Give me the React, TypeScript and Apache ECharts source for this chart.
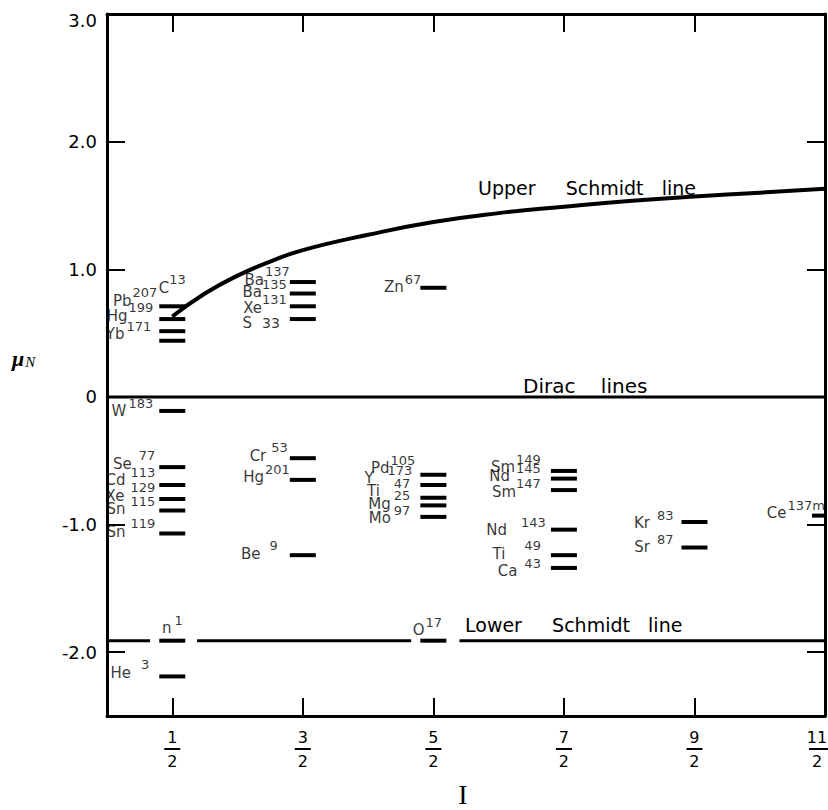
import React, { useEffect, useRef } from 'react';
import * as echarts from 'echarts';

// ---- data ----
const elements = ['C', 'Pb', 'Hg', 'Yb', 'W', 'Se', 'Cd', 'Xe', 'Sn', 'Sn',
  'Ba', 'Ba', 'Xe', 'S', 'Cr', 'Hg', 'Be',
  'Zn', 'Pd', 'Y', 'Ti', 'Mg', 'Mo',
  'Sm', 'Nd', 'Sm', 'Nd', 'Ti', 'Ca',
  'Kr', 'Sr', 'Ce', 'n', 'O', 'He'];
const massNumbers = ['13', '207', '199', '171', '183', '77', '113', '129', '115', '119',
  '137', '135', '131', '33', '53', '201', '9',
  '67', '105', '173', '47', '25', '97',
  '149', '145', '147', '143', '49', '43',
  '83', '87', '137m', '1', '17', '3'];
const spins = [0.5, 0.5, 0.5, 0.5, 0.5, 0.5, 0.5, 0.5, 0.5, 0.5,
  1.5, 1.5, 1.5, 1.5, 1.5, 1.5, 1.5,
  2.5, 2.5, 2.5, 2.5, 2.5, 2.5,
  3.5, 3.5, 3.5, 3.5, 3.5, 3.5,
  4.5, 4.5, 5.5, 0.5, 2.5, 0.5];
const moments = [0.71, 0.61, 0.515, 0.44, -0.11, -0.55, -0.69, -0.80, -0.89, -1.07,
  0.90, 0.81, 0.71, 0.61, -0.48, -0.65, -1.24,
  0.855, -0.61, -0.69, -0.79, -0.85, -0.94,
  -0.58, -0.64, -0.73, -1.04, -1.24, -1.34,
  -0.98, -1.18, -0.93, -1.91, -1.91, -2.19];

const upperSchmidtSpins = [0.5, 0.75, 1, 1.25, 1.5, 2, 2.5, 3, 3.5, 4, 4.5, 5, 5.5];
const upperSchmidtMoments = [0.63, 0.81, 0.95, 1.06, 1.15, 1.27, 1.37, 1.44, 1.49, 1.535, 1.57, 1.60, 1.63];
const diracMoment = 0;
const lowerSchmidtMoment = -1.91;
const lowerSchmidtSegments = [[0, 0.33], [0.69, 2.33], [2.70, 5.5]];

const xTickValues = [0.5, 1.5, 2.5, 3.5, 4.5, 5.5];
const xTickNumerators = ['1', '3', '5', '7', '9', '11'];
const xTickDenominators = ['2', '2', '2', '2', '2', '2'];
const yTickValues = [-2, -1, 0, 1, 2, 3];
const yTickLabels = ['-2.0', '-1.0', '0', '1.0', '2.0', '3.0'];

// ---- label layout (pixels) ----
type LL = { pos?: string; d?: number; dx?: number; dy?: number; gap?: number; inline?: boolean };
const labelLayout: Record<string, LL> = {
  C13: { pos: 'top', d: 5, dy: -4, gap: 0 },
  Pb207: { d: 2, dy: -22, gap: 1 },
  Hg199: { d: 6, dy: -19, gap: 1 },
  Yb171: { d: 8, dy: -10, gap: 2 },
  W183: { d: 6, dy: -3, gap: 2 },
  Se77: { d: 4, dy: -7, gap: 7 },
  Cd113: { d: 4, dy: -8, gap: 5 },
  Xe129: { d: 4, dy: -7, gap: 6 },
  Sn115: { d: 4, dy: -5, gap: 5 },
  Sn119: { d: 4, dy: -5, gap: 5 },
  Ba137: { d: 0, dy: -6, gap: 1 },
  Ba135: { d: 3, dy: -5, gap: 0 },
  Xe131: { d: 3, dy: -2, gap: 0 },
  S33: { d: 10, dy: 0, gap: 10, inline: true },
  Cr53: { d: 2, dy: -6, gap: 5 },
  Hg201: { d: 0, dy: -6, gap: 1 },
  Be9: { d: 12, dy: -5, gap: 9 },
  Zn67: { d: 0, dx: 1, dy: -4, gap: 1 },
  Pd105: { d: 5, dy: -10, gap: 1 },
  Y173: { d: 8, dy: -10, gap: 14 },
  Ti47: { d: 10, dy: -10, gap: 14 },
  Mg25: { d: 10, dy: -5, gap: 3 },
  Mo97: { d: 10, dy: -2, gap: 3 },
  Sm149: { d: 10, dy: -7, gap: 1 },
  Nd145: { d: 10, dy: -6, gap: 6 },
  Sm147: { d: 10, dy: -2, gap: 0 },
  Nd143: { d: 5, dy: -3, gap: 14 },
  Ti49: { d: 10, dy: -5, gap: 19 },
  Ca43: { d: 10, dy: 0, gap: 7 },
  Kr83: { d: 8, dy: -2, gap: 7 },
  Sr87: { d: 8, dy: -4, gap: 7 },
  Ce137m: { d: 0, dx: 13, dy: -6, gap: 1 },
  n1: { pos: 'top', d: 5, dy: 2, gap: 3 },
  O17: { pos: 'top', d: 5, dy: 4, dx: -6, gap: 1 },
  He3: { d: 10, dy: -7, gap: 10 },
};

const FONT = '"DejaVu Sans", sans-serif';
const SERIF = '"Liberation Serif", "DejaVu Serif", serif';

export default function App() {
  const ref = useRef<HTMLDivElement>(null);
  useEffect(() => {
    document.body.style.margin = '0';
    if (!ref.current) return;
    const chart = echarts.init(ref.current, undefined, { renderer: 'svg' });

    const gapRich: Record<string, any> = {};
    Object.values(labelLayout).forEach((l) => {
      const g = l.gap ?? 2;
      gapRich['g' + g] = { width: g };
    });

    const labelData = spins.map((x, i) => {
      const key = elements[i] + massNumbers[i];
      const l = labelLayout[key] || {};
      return {
        value: [x, moments[i]],
        label: {
          position: l.pos ?? 'left',
          distance: l.d ?? 4,
          offset: [l.dx ?? 0, l.dy ?? -5],
        },
      };
    });

    const axisLine = { show: true, onZero: false, lineStyle: { color: '#000', width: 3 } };
    const tickStyle = { color: '#000', width: 2 };
    const fracBase = { fontSize: 16, lineHeight: 16, fontFamily: FONT, color: '#000', align: 'center' };
    const barBase = { width: 16, height: 2, lineHeight: 8, backgroundColor: '#000', align: 'center' };

    const series: any[] = [
      {
        type: 'line',
        data: upperSchmidtSpins.map((x, i) => [x, upperSchmidtMoments[i]]),
        smooth: true,
        symbol: 'none',
        lineStyle: { color: '#000', width: 4 },
        z: 3,
      },
      {
        type: 'line',
        data: [[0, diracMoment], [5.5, diracMoment]],
        symbol: 'none',
        lineStyle: { color: '#000', width: 3 },
        z: 3,
      },
      ...lowerSchmidtSegments.map((seg) => ({
        type: 'line',
        data: seg.map((x) => [x, lowerSchmidtMoment]),
        symbol: 'none',
        lineStyle: { color: '#000', width: 3 },
        z: 3,
      })),
      {
        type: 'custom',
        clip: true,
        data: spins.map((x, i) => [x, moments[i]]),
        renderItem: (params: any, api: any) => {
          const p = api.coord([api.value(0), api.value(1)]);
          return {
            type: 'rect',
            shape: { x: p[0] - 13, y: p[1] - 2, width: 26, height: 4 },
            style: { fill: '#000' },
          };
        },
        z: 4,
      },
      {
        type: 'scatter',
        symbol: 'rect',
        symbolSize: [26, 4],
        itemStyle: { color: 'rgba(0,0,0,0)' },
        silent: true,
        data: labelData,
        z: 5,
        label: {
          show: true,
          color: '#000',
          textBorderWidth: 0,
          lineHeight: 22,
          formatter: (p: any) => {
            const i = p.dataIndex;
            const key = elements[i] + massNumbers[i];
            const l = labelLayout[key] || {};
            const g = l.gap ?? 2;
            return `{e|${elements[i]}}{g${g}|}{${l.inline ? 'm' : 's'}|${massNumbers[i]}}`;
          },
          rich: {
            e: { fontSize: 15, fontFamily: FONT, color: '#000', verticalAlign: 'bottom' },
            m: { fontSize: 14, fontFamily: FONT, color: '#000', verticalAlign: 'bottom' },
            s: { fontSize: 13, fontFamily: FONT, color: '#000', verticalAlign: 'top' },
            ...gapRich,
          },
        },
      },
    ];

    chart.setOption({
      animation: false,
      backgroundColor: '#fff',
      grid: { left: 107, right: 3, top: 14, bottom: 94, containLabel: false, outerBoundsMode: 'none' },
      xAxis: [
        {
          type: 'value', min: 0, max: 5.5, position: 'bottom',
          axisLine,
          axisTick: { show: true, inside: true, length: 18, lineStyle: tickStyle, customValues: xTickValues },
          axisLabel: {
            show: true,
            customValues: xTickValues,
            margin: 13,
            formatter: (v: number) => {
              const i = xTickValues.indexOf(v);
              if (i < 0) return '';
              const edge = i === xTickValues.length - 1;
              const n = edge ? 'ne' : 'n';
              const b = edge ? 'be' : 'b';
              const d = edge ? 'de' : 'd';
              return `{${n}|${xTickNumerators[i]}}\n{${b}|}\n{${d}|${xTickDenominators[i]}}`;
            },
            rich: {
              n: fracBase,
              b: barBase,
              d: fracBase,
              ne: { ...fracBase, padding: [0, 16, 0, 0] },
              be: { ...barBase, padding: [0, 16, 0, 0] },
              de: { ...fracBase, padding: [0, 16, 0, 0] },
            },
          },
          splitLine: { show: false },
        },
        {
          type: 'value', min: 0, max: 5.5, position: 'top',
          axisLine,
          axisTick: { show: true, inside: true, length: 18, lineStyle: tickStyle, customValues: xTickValues },
          axisLabel: { show: false },
          splitLine: { show: false },
        },
      ],
      yAxis: [
        {
          type: 'value', min: -2.5, max: 3, position: 'left',
          axisLine,
          axisTick: { show: true, inside: true, length: 18, lineStyle: tickStyle, customValues: yTickValues },
          axisLabel: {
            show: true,
            customValues: yTickValues,
            margin: 10,
            color: '#000',
            fontSize: 18,
            fontFamily: FONT,
            formatter: (v: number) => {
              const i = yTickValues.indexOf(v);
              if (i < 0) return '';
              return v === 3 ? `{t|${yTickLabels[i]}}` : yTickLabels[i];
            },
            rich: { t: { fontSize: 18, fontFamily: FONT, color: '#000', padding: [12, 0, 0, 0] } },
          },
          splitLine: { show: false },
        },
        {
          type: 'value', min: -2.5, max: 3, position: 'right',
          axisLine,
          axisTick: { show: true, inside: true, length: 18, lineStyle: tickStyle, customValues: yTickValues },
          axisLabel: { show: false },
          splitLine: { show: false },
        },
      ],
      graphic: [
        {
          type: 'text', x: 478, y: 188, z: 10,
          style: { text: 'Upper     Schmidt   line', fontSize: 19, fontFamily: FONT, fill: '#000', align: 'left', verticalAlign: 'middle' },
        },
        {
          type: 'text', x: 523, y: 386, z: 10,
          style: { text: 'Dirac    lines', fontSize: 20, fontFamily: FONT, fill: '#000', align: 'left', verticalAlign: 'middle' },
        },
        {
          type: 'text', x: 465, y: 625, z: 10,
          style: { text: 'Lower     Schmidt   line', fontSize: 19, fontFamily: FONT, fill: '#000', align: 'left', verticalAlign: 'middle' },
        },
        {
          type: 'text', x: 12, y: 358, z: 10,
          style: {
            text: '{m|μ}{n|N}', align: 'left', verticalAlign: 'middle',
            rich: {
              m: { fontSize: 22, fontFamily: SERIF, fontStyle: 'italic', fontWeight: 'bold', fill: '#000', verticalAlign: 'middle' },
              n: { fontSize: 15, fontFamily: SERIF, fontStyle: 'italic', fill: '#000', verticalAlign: 'bottom', padding: [6, 0, 0, 1] },
            },
          },
        },
        {
          type: 'text', x: 463, y: 794, z: 10,
          style: { text: 'I', fontSize: 28, fontFamily: SERIF, fill: '#000', align: 'center', verticalAlign: 'middle' },
        },
      ],
      series,
    });

    return () => chart.dispose();
  }, []);
  return <div ref={ref} style={{ width: 828, height: 810 }} />;
}
